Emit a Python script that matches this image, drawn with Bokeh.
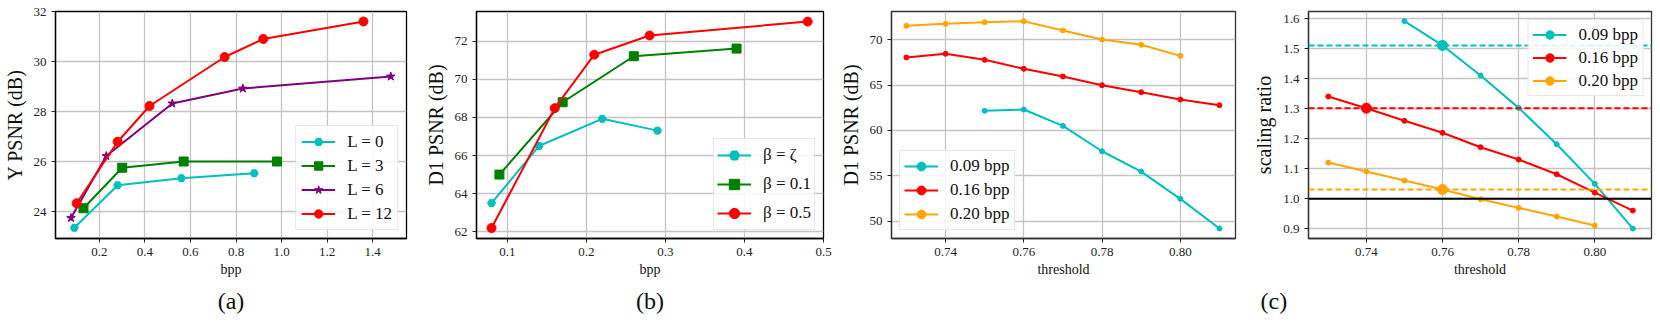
from bokeh.plotting import figure
from bokeh.models import Legend, LegendItem, Span, Title, FixedTicker, PrintfTickFormatter, Range1d
from bokeh.layouts import row
from bokeh.embed import file_html
from bokeh.resources import INLINE

FONT = "Liberation Serif"
CYAN = "#00bfbf"
GREEN = "#008000"
PURPLE = "#800080"
RED = "#ff0000"
ORANGE = "#ffa500"

# ---------- panel (a) ----------
a_labels = ["L = 0", "L = 3", "L = 6", "L = 12"]
a_L0_x = [0.09, 0.28, 0.56, 0.88]
a_L0_y = [23.35, 25.05, 25.33, 25.53]
a_L3_x = [0.13, 0.30, 0.57, 0.98]
a_L3_y = [24.13, 25.75, 26.0, 26.0]
a_L6_x = [0.075, 0.23, 0.52, 0.83, 1.48]
a_L6_y = [23.74, 26.22, 28.32, 28.92, 29.4]
a_L12_x = [0.10, 0.28, 0.42, 0.75, 0.92, 1.36]
a_L12_y = [24.33, 26.79, 28.22, 30.18, 30.9, 31.6]
a_xticks = [0.2, 0.4, 0.6, 0.8, 1.0, 1.2, 1.4]
a_yticks = [24, 26, 28, 30, 32]

# ---------- panel (b) ----------
b_labels = ["β = ζ", "β = 0.1", "β = 0.5"]
b_z_x = [0.08, 0.14, 0.22, 0.29]
b_z_y = [63.5, 66.5, 67.93, 67.31]
b_01_x = [0.09, 0.17, 0.26, 0.39]
b_01_y = [65.0, 68.8, 71.22, 71.62]
b_05_x = [0.08, 0.16, 0.21, 0.28, 0.48]
b_05_y = [62.19, 68.49, 71.3, 72.31, 73.04]
b_xticks = [0.1, 0.2, 0.3, 0.4, 0.5]
b_yticks = [62, 64, 66, 68, 70, 72]

# ---------- panel (c) left: D1 PSNR vs threshold ----------
c_labels = ["0.09 bpp", "0.16 bpp", "0.20 bpp"]
c_009_x = [0.75, 0.76, 0.77, 0.78, 0.79, 0.80, 0.81]
c_009_y = [62.17, 62.31, 60.51, 57.71, 55.47, 52.46, 49.19]
c_016_x = [0.73, 0.74, 0.75, 0.76, 0.77, 0.78, 0.79, 0.80, 0.81]
c_016_y = [68.05, 68.46, 67.79, 66.8, 65.95, 64.99, 64.22, 63.42, 62.79]
c_020_x = [0.73, 0.74, 0.75, 0.76, 0.77, 0.78, 0.79, 0.80]
c_020_y = [71.54, 71.76, 71.94, 72.05, 71.03, 70.03, 69.45, 68.23]
c_xticks = [0.74, 0.76, 0.78, 0.80]
c_yticks = [50, 55, 60, 65, 70]

# ---------- panel (c) right: scaling ratio vs threshold ----------
d_009_x = [0.75, 0.76, 0.77, 0.78, 0.79, 0.80, 0.81]
d_009_y = [1.592, 1.511, 1.411, 1.303, 1.182, 1.05, 0.901]
d_016_x = [0.73, 0.74, 0.75, 0.76, 0.77, 0.78, 0.79, 0.80, 0.81]
d_016_y = [1.341, 1.302, 1.26, 1.22, 1.172, 1.131, 1.082, 1.021, 0.961]
d_020_x = [0.73, 0.74, 0.75, 0.76, 0.77, 0.78, 0.79, 0.80]
d_020_y = [1.121, 1.091, 1.061, 1.031, 0.999, 0.97, 0.941, 0.911]
d_pick_x = [0.76, 0.74, 0.76]
d_pick_y = [1.511, 1.302, 1.031]
d_ref = 1.0
d_xticks = [0.74, 0.76, 0.78, 0.80]
d_yticks = [0.9, 1.0, 1.1, 1.2, 1.3, 1.4, 1.5, 1.6]

captions = ["(a)", "(b)", "(c)"]

H = 327
FRAME_BOTTOM = 238   # frame bottom, in figure pixels


def make_fig(width, left, right, top, xr, yr, xlabel, ylabel, xticks, yticks, xfmt, yfmt,
             outline="black"):
    p = figure(width=width, height=H, x_range=Range1d(*xr), y_range=Range1d(*yr),
               output_backend="svg", toolbar_location=None,
               min_border_left=left, min_border_right=right,
               min_border_top=top, min_border_bottom=H - FRAME_BOTTOM)
    p.outline_line_color = outline
    p.outline_line_width = 1.3
    p.outline_line_alpha = 1
    p.background_fill_color = "white"
    p.border_fill_color = "white"
    p.xaxis.ticker = FixedTicker(ticks=xticks)
    p.yaxis.ticker = FixedTicker(ticks=yticks)
    p.xaxis.formatter = PrintfTickFormatter(format=xfmt)
    p.yaxis.formatter = PrintfTickFormatter(format=yfmt)
    p.xaxis.axis_label = xlabel
    p.yaxis.axis_label = ylabel
    for ax in p.axis:
        ax.axis_line_color = outline
        ax.axis_line_width = 1.3
        ax.major_tick_out = 4
        ax.major_tick_in = 0
        ax.minor_tick_out = 0
        ax.minor_tick_in = 0
        ax.major_tick_line_color = "#222222"
        ax.major_label_text_font = FONT
        ax.major_label_text_font_size = "13px"
        ax.major_label_text_color = "#222222"
        ax.major_label_standoff = 5
        ax.axis_label_text_font = FONT
        ax.axis_label_text_font_style = "normal"
        ax.axis_label_text_color = "#111111"
    p.xaxis.axis_label_text_font_size = "14px"
    p.xaxis.axis_label_standoff = 3
    p.yaxis.axis_label_text_font_size = "20px"
    p.yaxis.axis_label_standoff = 5
    p.grid.grid_line_color = "#c4c4c4"
    p.grid.grid_line_width = 1.3
    return p


def add_legend(p, items, location, label_h, spacing, padding):
    lg = Legend(items=items, location=location, orientation="vertical",
                label_text_font=FONT, label_text_font_size="17px", label_text_color="#111111",
                glyph_width=34, glyph_height=label_h, label_height=label_h,
                label_standoff=12, padding=padding, spacing=spacing, margin=8,
                border_line_color="#cfcfcf", border_line_width=1.2,
                background_fill_color="white", background_fill_alpha=0.85)
    p.add_layout(lg)


def caption(p, text, align, offset):
    p.add_layout(Title(text=text, align=align, offset=offset, standoff=13,
                       text_font=FONT, text_font_size="24px", text_font_style="normal",
                       text_color="#111111"), "below")


# ----- figure (a)
pa = make_fig(421, 55, 15, 8, (0.007, 1.549), (22.92, 32.0), "bpp", "Y PSNR (dB)",
              a_xticks, a_yticks, "%.1f", "%d")
items = []
for (xs, ys, col, mk, sz), lab in zip(
        [(a_L0_x, a_L0_y, CYAN, "hex", 8), (a_L3_x, a_L3_y, GREEN, "square", 9),
         (a_L6_x, a_L6_y, PURPLE, "star", 9), (a_L12_x, a_L12_y, RED, "circle", 9)], a_labels):
    l = pa.line(xs, ys, line_color=col, line_width=2)
    s = pa.scatter(xs, ys, marker=mk, size=sz, fill_color=col, line_color=col)
    items.append(LegendItem(label=lab, renderers=[l, s]))
add_legend(pa, items, "bottom_right", 21, 3, 5)
caption(pa, captions[0], "center", 0)

# ----- figure (b)
pb = make_fig(415, 51, 13, 8, (0.061, 0.5), (61.64, 73.57), "bpp", "D1 PSNR (dB)",
              b_xticks, b_yticks, "%.1f", "%d")
items = []
for (xs, ys, col, mk, sz), lab in zip(
        [(b_z_x, b_z_y, CYAN, "hex", 8), (b_01_x, b_01_y, GREEN, "square", 9),
         (b_05_x, b_05_y, RED, "circle", 9)], b_labels):
    l = pb.line(xs, ys, line_color=col, line_width=2)
    s = pb.scatter(xs, ys, marker=mk, size=sz, fill_color=col, line_color=col)
    items.append(LegendItem(label=lab, renderers=[l, s]))
add_legend(pb, items, "bottom_right", 26, 3, 3)
caption(pb, captions[1], "center", 0)

# ----- figure (c) left
pc = make_fig(414, 51, 15, 11, (0.7262, 0.8141), (48.09, 73.12), "threshold", "D1 PSNR (dB)",
              c_xticks, c_yticks, "%.2f", "%d", outline="#333333")
items = []
for (xs, ys, col), lab in zip(
        [(c_009_x, c_009_y, CYAN), (c_016_x, c_016_y, RED), (c_020_x, c_020_y, ORANGE)], c_labels):
    l = pc.line(xs, ys, line_color=col, line_width=2)
    s = pc.scatter(xs, ys, marker="circle", size=5, fill_color=col, line_color=col)
    items.append(LegendItem(label=lab, renderers=[l, s]))
add_legend(pc, items, "bottom_left", 22, 2, 4)

# ----- figure (c) right
pd_ = make_fig(408, 53, 7, 11, (0.7248, 0.8149), (0.868, 1.624), "threshold", "scaling ratio",
               d_xticks, d_yticks, "%.2f", "%.1f", outline="#333333")
cols = [CYAN, RED, ORANGE]
for v, col in zip(d_pick_y, cols):
    pd_.add_layout(Span(location=v, dimension="width", line_color=col, line_width=2, line_dash="6 3"))
pd_.add_layout(Span(location=d_ref, dimension="width", line_color="black", line_width=2))
items = []
for (xs, ys, col), lab in zip(
        [(d_009_x, d_009_y, CYAN), (d_016_x, d_016_y, RED), (d_020_x, d_020_y, ORANGE)], c_labels):
    l = pd_.line(xs, ys, line_color=col, line_width=2)
    s = pd_.scatter(xs, ys, marker="circle", size=5, fill_color=col, line_color=col)
    items.append(LegendItem(label=lab, renderers=[l, s]))
pd_.scatter(d_pick_x, d_pick_y, marker="circle", size=10, fill_color=cols, line_color=cols)
add_legend(pd_, items, "top_right", 21, 2, 4)
caption(pd_, captions[2], "left", -48)

layout = row(pa, pb, pc, pd_, spacing=0)
open("out.html", "w").write(file_html(layout, INLINE))
